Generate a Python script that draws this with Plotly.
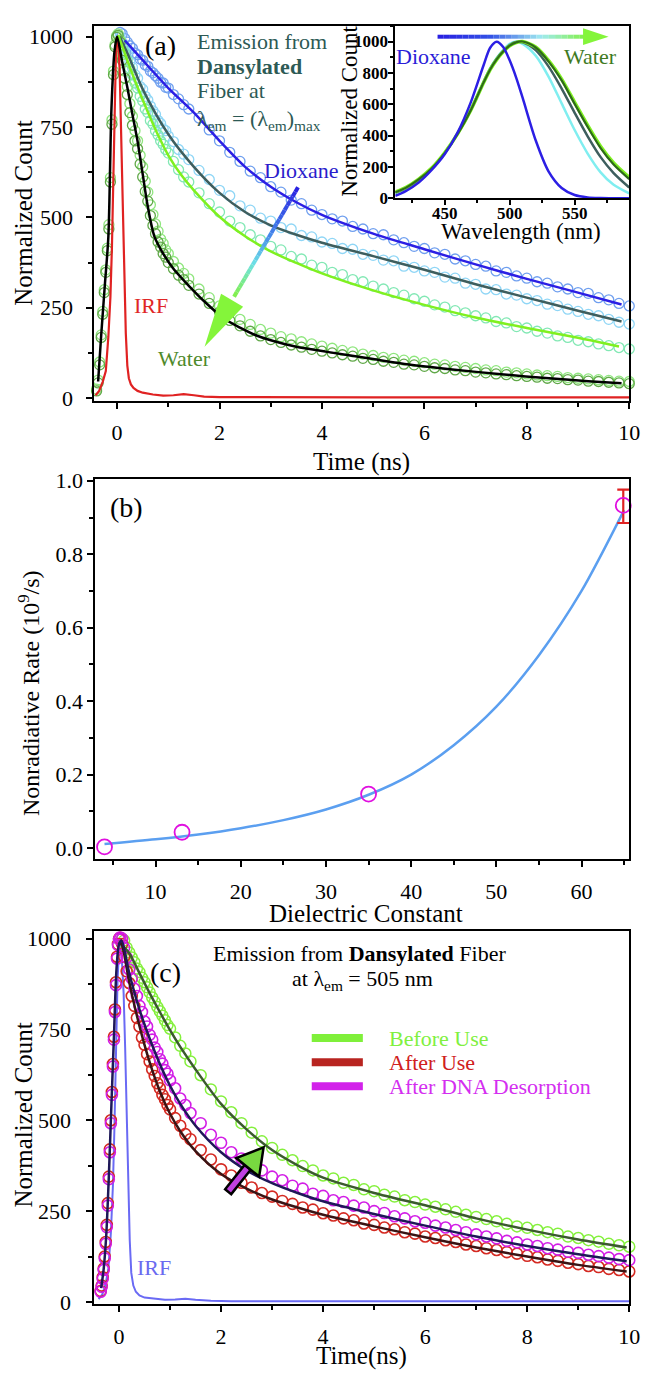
import plotly.graph_objects as go

# the page has an 8px body margin: the figure starts at (8, 8) and fills the rest of the 654 x 1381 page
OFF = 8
FW, FH = 654 - OFF, 1381 - 2 * OFF
FONT = "Liberation Serif, Times New Roman, Times, serif"

# ---------------- panel (a): fluorescence decays ----------------
T_RISE_A = [-0.40, -0.37, -0.34, -0.31, -0.28, -0.25, -0.22, -0.19, -0.16, -0.13, -0.10, -0.07, -0.04, -0.01, 0.02]
T_DECAY = [0.06, 0.10, 0.15, 0.20, 0.25, 0.30, 0.35, 0.40, 0.45, 0.50, 0.55, 0.60, 0.65, 0.70, 0.75, 0.80,
           0.85, 0.90, 0.95, 1.00, 1.10, 1.20, 1.30,
           1.4, 1.6, 1.8, 2.0, 2.2, 2.4, 2.6, 2.8, 3.0, 3.2, 3.4, 3.6, 3.8, 4.0, 4.2, 4.4, 4.6, 4.8, 5.0,
           5.2, 5.4, 5.6, 5.8, 6.0, 6.2, 6.4, 6.6, 6.8, 7.0, 7.2, 7.4, 7.6, 7.8, 8.0, 8.2, 8.4, 8.6, 8.8,
           9.0, 9.2, 9.4, 9.6, 9.8, 10.0]

DIOXANE = [1012, 1008, 995, 985, 975, 968, 955, 950, 938, 935, 922, 918, 905, 900, 892, 885, 874, 872, 860, 858, 840, 828, 812,
           800, 775, 742, 712, 680, 655, 628, 610, 585, 570, 548, 538, 520, 508, 496, 490, 475, 468, 455, 452, 438, 430, 420, 414,
           402, 398, 385, 380, 370, 365, 352, 348, 338, 332, 322, 318, 308, 302, 292, 290, 278, 272, 262, 255]
SOLV2 = [1000, 985, 968, 955, 930, 915, 895, 885, 862, 855, 835, 825, 808, 795, 785, 768, 760, 745, 740, 725, 710, 688, 675,
         660, 630, 605, 575, 560, 532, 520, 498, 490, 472, 468, 450, 446, 432, 428, 414, 412, 398, 395, 382, 380, 365, 362, 352,
         348, 335, 332, 318, 315, 302, 300, 288, 285, 275, 270, 260, 256, 246, 240, 232, 228, 218, 210, 205]
SOLV3 = [990, 975, 955, 935, 912, 895, 872, 858, 835, 822, 800, 790, 768, 758, 740, 728, 712, 702, 688, 678, 655, 632, 612,
         598, 568, 538, 515, 490, 472, 452, 438, 420, 410, 392, 385, 368, 362, 348, 342, 328, 322, 310, 302, 292, 285, 275, 268,
         258, 252, 242, 236, 228, 222, 212, 208, 198, 194, 185, 180, 172, 168, 160, 156, 150, 145, 140, 136]
SOLV4_RISE = [25, 50, 100, 175, 240, 300, 355, 415, 480, 610, 770, 905, 978, 1002, 1008]
SOLV4 = [990, 950, 905, 862, 815, 780, 740, 712, 672, 640, 600, 570, 535, 508, 482, 462, 440, 428, 410, 400, 378, 360, 345,
         330, 302, 278, 255, 236, 218, 204, 190, 180, 170, 164, 156, 150, 144, 138, 132, 128, 122, 118, 113, 110, 105, 102, 98,
         94, 92, 88, 85, 82, 78, 76, 72, 70, 67, 64, 62, 60, 57, 55, 53, 51, 49, 47, 46]
WATER_RISE = [20, 42, 92, 168, 232, 292, 348, 408, 468, 598, 758, 895, 972, 998, 1004]
WATER = [985, 935, 885, 840, 790, 755, 712, 690, 648, 612, 572, 545, 505, 478, 455, 432, 418, 400, 390, 375, 358, 340, 328,
         312, 288, 262, 238, 215, 200, 185, 172, 162, 154, 147, 141, 135, 130, 125, 120, 116, 110, 107, 102, 99, 94, 92, 88,
         84, 82, 78, 76, 72, 70, 67, 65, 62, 60, 58, 55, 54, 51, 50, 47, 46, 44, 42, 40]

T_IRF_A = [-0.42, -0.35, -0.28, -0.22, -0.17, -0.13, -0.10, -0.07, -0.04, -0.02, 0.00, 0.02, 0.05, 0.08, 0.11, 0.14, 0.17,
           0.20, 0.23, 0.27, 0.32, 0.40, 0.50, 0.70, 0.90, 1.10, 1.30, 1.50, 1.70, 2.00, 3.00, 4.00, 5.00, 6.00, 7.00,
           8.00, 9.00, 9.60, 10.00]
IRF_A = [8, 20, 45, 75, 170, 280, 420, 600, 840, 970, 1000, 985, 910, 720, 520, 330, 180, 90, 55, 38, 28, 20, 15, 10, 7,
         8, 11, 8, 4, 3, 2, 2, 2, 2, 2, 2, 2, 4, 2]

T_FIT_BLUE = [0.15, 0.5, 1.0, 1.5, 2.0, 2.5, 3.0, 3.5, 4.0, 5.0, 6.0, 7.0, 8.0, 9.0, 9.85]
FIT_BLUE = [990, 935, 858, 790, 712, 640, 585, 542, 507, 455, 412, 370, 330, 292, 259]
T_FIT_GRAY = [0.05, 0.2, 0.5, 1.0, 1.5, 2.0, 2.5, 3.0, 3.5, 4.0, 5.0, 6.0, 7.0, 8.0, 9.0, 9.85]
FIT_GRAY = [1000, 955, 855, 730, 640, 568, 515, 478, 452, 430, 393, 355, 315, 278, 242, 212]
T_FIT_LIME = [0.02, 0.2, 0.4, 0.6, 0.8, 1.0, 1.25, 1.5, 2.0, 2.5, 3.0, 3.5, 4.0, 5.0, 6.0, 7.0, 8.0, 9.0, 9.8]
FIT_LIME = [1005, 935, 860, 792, 728, 672, 618, 575, 502, 448, 406, 374, 345, 298, 258, 223, 194, 167, 143]
T_FIT_WATER = [-0.37, -0.31, -0.24, -0.17, -0.11, -0.05, 0.00, 0.10, 0.20, 0.30, 0.40, 0.50, 0.60, 0.73, 0.90, 1.10,
               1.42, 1.70, 2.08, 2.40, 2.71, 3.00, 3.50, 4.10, 5.00, 5.70, 6.50, 7.50, 8.50, 9.20, 9.85]
FIT_WATER = [46, 174, 311, 447, 801, 960, 1000, 930, 860, 785, 711, 620, 530, 447, 400, 358, 308, 268, 221, 195, 174,
             160, 142, 128, 108, 93, 80, 66, 54, 47, 41]

# ---------------- inset: emission spectra ----------------
WAVELENGTH = [412, 420, 430, 440, 450, 460, 470, 480, 485, 490, 495, 500, 505, 510, 520, 530, 540, 550, 560, 570, 580, 592]
SPEC_DIOXANE = [15, 45, 100, 180, 280, 420, 610, 850, 960, 998, 965, 880, 770, 640, 370, 170, 65, 20, 5, 1, 0, 0]
SPEC_CYAN = [32, 62, 118, 190, 290, 415, 565, 745, 830, 895, 945, 985, 1000, 985, 910, 775, 605, 435, 285, 165, 85, 30]
SPEC_GRAY = [35, 64, 118, 188, 288, 412, 562, 742, 825, 890, 940, 978, 998, 995, 945, 840, 700, 545, 395, 262, 160, 68]
SPEC_LIME = [40, 68, 122, 192, 290, 412, 560, 738, 820, 884, 934, 972, 993, 1000, 965, 878, 760, 612, 465, 330, 225, 132]
SPEC_WATER = [38, 66, 120, 190, 288, 410, 560, 740, 822, 886, 936, 974, 995, 1000, 962, 872, 752, 602, 455, 320, 215, 122]

# ---------------- panel (b) ----------------
DIELECTRIC = [4.0, 13.1, 35.0]
RATE = [0.003, 0.043, 0.147]
DIELECTRIC_ERR = [64.9]
RATE_ERR = [0.933]
ERR_UP = [0.043]
ERR_DOWN = [0.048]
FIT_EPS = [4, 10, 15, 20, 25, 30, 35, 40, 45, 50, 55, 60, 65]
FIT_RATE = [0.011, 0.024, 0.037, 0.054, 0.076, 0.105, 0.145, 0.200, 0.280, 0.385, 0.525, 0.700, 0.920]

# ---------------- panel (c) ----------------
T_RISE_C = [-0.36, -0.34, -0.32, -0.30, -0.28, -0.26, -0.24, -0.22, -0.20, -0.18, -0.16, -0.14, -0.12, -0.10, -0.08,
            -0.06, -0.04, -0.02, 0.00, 0.02]
AFTER_RISE = [30, 45, 68, 92, 125, 165, 212, 272, 345, 420, 500, 578, 655, 730, 805, 880, 950, 985, 1000, 1002]
DESORB_RISE = [28, 42, 64, 88, 120, 160, 206, 265, 338, 412, 492, 570, 648, 722, 798, 872, 945, 982, 998, 1003]
BEFORE = [1000, 995, 975, 962, 948, 935, 918, 908, 892, 880, 866, 852, 838, 826, 812, 800, 788, 775, 762, 752, 728, 705, 684,
          662, 624, 585, 552, 522, 492, 466, 442, 424, 405, 390, 374, 362, 348, 340, 328, 322, 310, 305, 295, 290, 280, 275,
          268, 262, 255, 248, 240, 234, 228, 222, 215, 208, 204, 198, 192, 188, 180, 176, 170, 166, 160, 156, 152]
DESORB = [1000, 975, 948, 915, 890, 862, 842, 815, 798, 772, 758, 735, 722, 700, 688, 668, 656, 638, 628, 610, 588, 560, 542,
          520, 492, 460, 438, 412, 395, 375, 362, 345, 335, 320, 312, 298, 292, 280, 275, 265, 260, 250, 245, 236, 230, 222,
          218, 210, 205, 198, 192, 186, 180, 175, 168, 164, 158, 154, 148, 144, 138, 135, 130, 126, 122, 118, 115]
AFTER = [985, 950, 910, 878, 842, 815, 782, 758, 728, 708, 682, 662, 640, 622, 602, 588, 570, 558, 542, 530, 506, 485, 462,
         448, 418, 392, 365, 348, 328, 315, 300, 290, 278, 270, 260, 254, 244, 238, 230, 225, 216, 212, 205, 200, 192, 188,
         180, 176, 170, 165, 158, 154, 148, 143, 137, 133, 127, 123, 117, 113, 108, 104, 99, 96, 91, 88, 84]
T_IRF_C = [-0.40, -0.33, -0.27, -0.21, -0.16, -0.12, -0.09, -0.06, -0.03, 0.00, 0.03, 0.06, 0.09, 0.12, 0.15, 0.18, 0.21,
           0.24, 0.28, 0.33, 0.40, 0.50, 0.70, 0.90, 1.10, 1.30, 1.50, 1.80, 2.20, 3.00, 4.00, 5.00, 6.00, 7.00, 8.00,
           9.00, 9.60, 10.00]
IRF_C = [8, 20, 45, 90, 190, 320, 480, 680, 880, 975, 990, 930, 850, 700, 520, 330, 170, 80, 45, 28, 18, 12, 8, 6, 7, 9,
         6, 3, 2, 2, 1, 2, 1, 2, 1, 2, 3, 2]
T_FIT_BEFORE = [0.00, 0.20, 0.40, 0.60, 0.80, 1.00, 1.20, 1.50, 2.00, 2.50, 3.00, 3.50, 4.00, 5.00, 6.00, 7.00, 8.00, 9.00, 9.95]
FIT_BEFORE = [990, 960, 905, 850, 798, 748, 702, 640, 545, 475, 418, 376, 342, 300, 266, 230, 199, 172, 150]
T_FIT_DESORB = [-0.35, -0.30, -0.25, -0.20, -0.15, -0.10, -0.05, 0.00, 0.05, 0.20, 0.40, 0.60, 0.80, 1.00, 1.20, 1.50,
                2.00, 2.50, 3.00, 3.50, 4.00, 5.00, 6.00, 7.00, 8.00, 9.00, 9.95]
FIT_DESORB = [38, 92, 185, 345, 540, 730, 915, 985, 995, 905, 805, 725, 655, 595, 545, 485, 412, 362, 327, 300, 277, 242,
              210, 180, 154, 131, 112]
T_FIT_AFTER = [0.00, 0.05, 0.20, 0.40, 0.60, 0.80, 1.00, 1.20, 1.50, 2.00, 2.50, 3.00, 3.50, 4.00, 5.00, 6.00, 7.00, 8.00, 9.00, 9.95]
FIT_AFTER = [990, 985, 880, 760, 660, 580, 518, 470, 415, 352, 312, 282, 260, 240, 208, 178, 150, 125, 102, 84]

LEGEND_C = ["Before Use", "After Use", "After DNA Desorption"]

# ---------------- figure ----------------
fig = go.Figure()


def circles(x, y, color, xa, ya, size=10, lw=1.3):
    fig.add_trace(go.Scatter(x=x, y=y, mode="markers", xaxis=xa, yaxis=ya, cliponaxis=False, hoverinfo="skip",
                             marker=dict(symbol="circle-open", size=size, color=color, line=dict(width=lw, color=color))))


def curve(x, y, color, xa, ya, width=2.5, shape="spline"):
    fig.add_trace(go.Scatter(x=x, y=y, mode="lines", xaxis=xa, yaxis=ya, cliponaxis=False, hoverinfo="skip",
                             line=dict(color=color, width=width, shape=shape, smoothing=0.8)))


# panel (a)
circles(T_DECAY, DIOXANE, "#6f9fef", "x", "y")
circles(T_DECAY, SOLV2, "#8fd6f6", "x", "y")
circles(T_DECAY, SOLV3, "#82e8b4", "x", "y")
circles(T_RISE_A + T_DECAY, SOLV4_RISE + SOLV4, "#8fe67e", "x", "y")
circles(T_RISE_A + T_DECAY, WATER_RISE + WATER, "#60a848", "x", "y")
curve(T_IRF_A, IRF_A, "#e02222", "x", "y", width=2.2, shape="linear")
curve(T_FIT_BLUE, FIT_BLUE, "#2c1fe4", "x", "y")
curve(T_FIT_GRAY, FIT_GRAY, "#3e5e5e", "x", "y")
curve(T_FIT_LIME, FIT_LIME, "#7ff020", "x", "y")
curve(T_FIT_WATER, FIT_WATER, "#000000", "x", "y")

# inset
curve(WAVELENGTH, SPEC_CYAN, "#80eef0", "x2", "y2")
curve(WAVELENGTH, SPEC_GRAY, "#3e5e5e", "x2", "y2")
curve(WAVELENGTH, SPEC_LIME, "#7ff020", "x2", "y2", width=3.5)
curve(WAVELENGTH, SPEC_WATER, "#2e6b1a", "x2", "y2", width=2.2)
curve(WAVELENGTH, SPEC_DIOXANE, "#2c1fe4", "x2", "y2")

# panel (b)
curve(FIT_EPS, FIT_RATE, "#5b9ff0", "x3", "y3", width=2.5)
circles(DIELECTRIC, RATE, "#e010e0", "x3", "y3", size=15, lw=1.8)
fig.add_trace(go.Scatter(x=DIELECTRIC_ERR, y=RATE_ERR, mode="markers", xaxis="x3", yaxis="y3", cliponaxis=False,
                         hoverinfo="skip",
                         marker=dict(symbol="circle-open", size=15, color="#e010e0", line=dict(width=1.8, color="#e010e0")),
                         error_y=dict(type="data", symmetric=False, array=ERR_UP, arrayminus=ERR_DOWN,
                                      color="#e02222", thickness=2.2, width=6)))

# panel (c)
curve(T_IRF_C, IRF_C, "#6a6af4", "x4", "y4", width=2, shape="linear")
circles(T_DECAY, BEFORE, "#84f03c", "x4", "y4", size=11, lw=1.5)
circles(T_RISE_C + T_DECAY, AFTER_RISE + AFTER, "#d42a22", "x4", "y4", size=11, lw=1.6)
circles(T_RISE_C + T_DECAY, DESORB_RISE + DESORB, "#d21ee6", "x4", "y4", size=11, lw=1.6)
curve(T_FIT_BEFORE, FIT_BEFORE, "#3b5a2e", "x4", "y4")
curve(T_FIT_AFTER, FIT_AFTER, "#3a1414", "x4", "y4")
curve(T_FIT_DESORB, FIT_DESORB, "#1e1858", "x4", "y4")


def PX(x):
    return (x - OFF) / FW


def PY(y):
    return 1 - (y - OFF) / FH


def axis(dom, rng, dtick, mdtick, anchor, size=22, standoff=0, bold=False, fmt=None, ticklen=6):
    d = dict(domain=dom, range=rng, dtick=dtick, tick0=0, anchor=anchor,
             showline=True, mirror=True, linecolor="black", linewidth=2,
             ticks="outside", ticklen=ticklen, tickwidth=2, tickcolor="black",
             showgrid=False, zeroline=False, ticklabelstandoff=standoff,
             tickfont=dict(family=FONT, size=size, color="black", weight="bold" if bold else "normal"),
             minor=dict(ticks="outside", ticklen=max(ticklen - 2, 3), tickwidth=1.5, tickcolor="black",
                        dtick=mdtick, showgrid=False))
    if fmt:
        d["tickformat"] = fmt
    return d


def xd(a, b):
    return [PX(a), PX(b)]


def yd(top, bottom):
    return [PY(bottom), PY(top)]


fig.update_layout(
    width=FW, height=FH, margin=dict(l=0, r=0, t=0, b=0),
    paper_bgcolor="white", plot_bgcolor="white", showlegend=False,
    xaxis=axis(xd(95, 640), [-0.46, 10.0], 2, 1, "y", standoff=5),
    yaxis=axis(yd(16, 397), [-8, 1030], 250, 125, "x", standoff=8),
    xaxis2=axis(xd(402, 640), [412, 592], 50, 25, "y2", size=17, bold=True, standoff=-7, ticklen=5),
    yaxis2=axis(yd(16, 191), [0, 1100], 200, 100, "x2", size=17, bold=True, standoff=-3, ticklen=5),
    xaxis3=axis(xd(97, 640), [2.94, 65.6], 10, 5, "y3", standoff=6),
    yaxis3=axis(yd(476, 862), [-0.0295, 1.0054], 0.2, 0.1, "x3", standoff=0, fmt=".1f"),
    xaxis4=axis(xd(95, 640), [-0.5, 10.0], 2, 1, "y4", standoff=6),
    yaxis4=axis(yd(935, 1314), [-5.4, 1021.7], 250, 125, "x4", standoff=10),
)


def txt(x, y, text, size=22, color="black", xanchor="center", angle=0):
    fig.add_annotation(x=PX(x), y=PY(y), xref="paper", yref="paper", text=text, showarrow=False,
                       xanchor=xanchor, yanchor="middle", textangle=angle,
                       font=dict(family=FONT, size=size, color=color))


def seg(x0, y0, x1, y1, color, width):
    fig.add_shape(type="line", xref="paper", yref="paper", x0=PX(x0), y0=PY(y0), x1=PX(x1), y1=PY(y1),
                  line=dict(color=color, width=width))


def poly(pts, fill, lc=None, lw=0):
    path = "M " + " L ".join(f"{PX(x):.5f},{PY(y):.5f}" for x, y in pts) + " Z"
    fig.add_shape(type="path", path=path, xref="paper", yref="paper", fillcolor=fill,
                  line=dict(color=lc if lc else fill, width=lw))


def grad(f, stops):
    for (p0, c0), (p1, c1) in zip(stops, stops[1:]):
        if p0 <= f <= p1:
            u = (f - p0) / (p1 - p0)
            c = [round(c0[i] + (c1[i] - c0[i]) * u) for i in range(3)]
            return f"rgb({c[0]},{c[1]},{c[2]})"
    c = stops[-1][1]
    return f"rgb({c[0]},{c[1]},{c[2]})"


def grad_shaft(x0, y0, x1, y1, stops, width, n=24):
    for i in range(n):
        a, b = i / n, (i + 1) / n
        seg(x0 + (x1 - x0) * a, y0 + (y1 - y0) * a, x0 + (x1 - x0) * b, y0 + (y1 - y0) * b,
            grad((a + b) / 2, stops), width)


# panel (a) texts
txt(163, 36, "(a)", size=28)
TEAL = "#2d5a55"
txt(198, 32, "Emission from", color=TEAL, xanchor="left")
txt(198, 57, "<b>Dansylated</b>", color=TEAL, xanchor="left")
txt(198, 82, "Fiber at", color=TEAL, xanchor="left")
txt(198, 112, "λ<sub>em</sub> = (λ<sub>em</sub>)<sub>max</sub>", color=TEAL, xanchor="left")
txt(307, 163, "Dioxane", color="#2a1ccc")
txt(188, 354, "Water", color="#4f8a2c")
txt(153, 300, "IRF", color="#e02626")
txt(24, 206, "Normalized Count", size=25, angle=-90)
txt(368, 459, "Time (ns)", size=25)

# gradient arrow (a)
ARROW_STOPS = [(0, (40, 30, 225)), (0.45, (70, 140, 235)), (0.7, (110, 225, 230)), (1, (130, 240, 70))]
grad_shaft(303, 180, 238, 291, ARROW_STOPS, 4)
poly([(208, 342), (247.2, 301.2), (224.8, 288.0)], "#84f53a")

# inset texts + arrow
txt(441, 47, "Dioxane", color="#2a1cd8")
txt(601, 47, "Water", color="#3e7a22")
txt(355, 103, "Normalized Count", size=23, angle=-90)
txt(530, 225, "Wavelength (nm)", size=23)
INSET_STOPS = [(0, (40, 30, 225)), (0.35, (50, 80, 230)), (0.7, (160, 235, 240)), (1, (130, 240, 70))]
grad_shaft(445, 27, 596, 27, INSET_STOPS, 4)
poly([(619, 27), (593, 18.5), (593, 35.5)], "#84f53a")

# panel (b) texts
txt(129, 505, "(b)", size=28)
txt(30, 694, "Nonradiative Rate (10<sup>9</sup>/s)", size=24, angle=-90)
txt(372, 917, "Dielectric Constant", size=25)

# panel (c) texts
txt(168, 977, "(c)", size=28)
txt(366, 958, "Emission from <b>Dansylated</b> Fiber", size=22)
txt(369, 985, "at λ<sub>em</sub> = 505 nm", size=22)
LEG_COLORS = ["#7ff03a", "#b82420", "#d222ea"]
LEG_TEXT_COLORS = ["#80f040", "#d02020", "#d42ef0"]
for i, (lab, c, tc) in enumerate(zip(LEGEND_C, LEG_COLORS, LEG_TEXT_COLORS)):
    yy = 1044 + 24.5 * i
    seg(317, yy, 369, yy, c, 8)
    txt(394, yy, lab, size=22, color=tc, xanchor="left")
txt(157, 1277, "IRF", color="#6a6af0")
txt(24, 1122, "Normalized Count", size=25, angle=-90)
txt(368, 1367, "Time(ns)", size=25)

# outlined arrow (c)
poly([(232 + 3.1, 1200 + 2.5), (251.8 + 3.1, 1175.3 + 2.5), (251.8 - 3.1, 1175.3 - 2.5), (232 - 3.1, 1200 - 2.5)],
     "#c040e0", "black", 2.5)
poly([(268, 1155), (251.8 + 11.7, 1175.3 + 9.4), (251.8 - 11.7, 1175.3 - 9.4)], "#78d840", "black", 2.5)

fig.write_html("out.html")
